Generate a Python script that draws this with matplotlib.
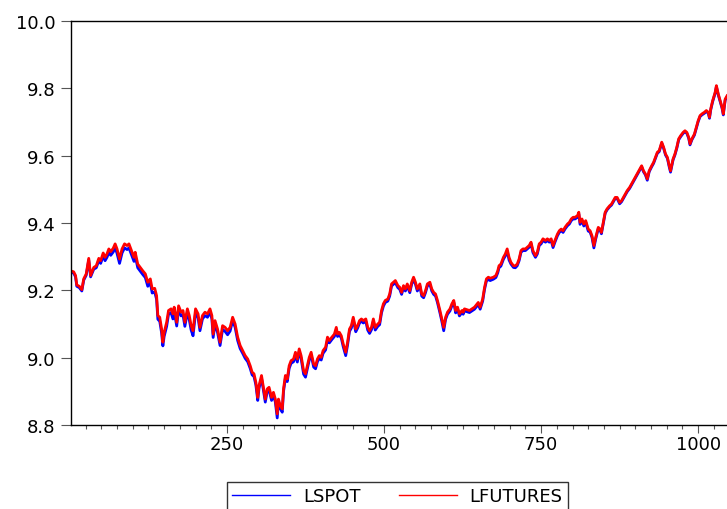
import matplotlib
matplotlib.use('Agg')
import matplotlib.pyplot as plt
from matplotlib.lines import Line2D
from matplotlib.ticker import MultipleLocator, FormatStrFormatter

obs = [
    1, 6, 9, 11, 15, 19, 22, 26, 30, 33, 38, 42, 46, 49, 53, 56, 59, 62, 65, 69,
    72, 75, 79, 83, 87, 91, 94, 97, 102, 104, 108, 112, 116, 120, 124, 128, 131, 135, 138, 140,
    143, 146, 148, 150, 154, 157, 161, 164, 166, 170, 173, 177, 180, 183, 187, 190, 193, 196, 200, 204,
    207, 211, 215, 219, 223, 226, 228, 231, 235, 239, 243, 247, 251, 255, 259, 263, 267, 271, 275, 279,
    283, 287, 290, 293, 296, 299, 301, 305, 308, 311, 314, 317, 321, 324, 327, 330, 332, 335, 338, 340,
    343, 346, 349, 352, 356, 359, 362, 365, 368, 372, 375, 378, 381, 384, 388, 391, 394, 397, 400, 403,
    407, 410, 413, 417, 421, 424, 426, 429, 432, 435, 439, 442, 445, 448, 451, 455, 458, 461, 464, 467,
    471, 474, 477, 480, 483, 486, 490, 493, 496, 499, 502, 506, 509, 512, 515, 518, 522, 525, 528, 531,
    534, 537, 541, 544, 547, 550, 553, 557, 560, 563, 566, 569, 573, 576, 579, 582, 585, 589, 592, 595,
    598, 601, 605, 608, 611, 614, 617, 620, 624, 626, 628, 636, 644, 650, 653, 657, 660, 663, 666, 669,
    674, 678, 681, 683, 686, 690, 693, 696, 699, 702, 706, 709, 712, 715, 718, 721, 725, 728, 731, 734,
    737, 741, 744, 747, 750, 753, 757, 760, 763, 766, 769, 772, 776, 779, 782, 785, 788, 792, 795, 798,
    801, 804, 808, 810, 812, 815, 818, 821, 825, 828, 831, 834, 837, 841, 844, 846, 849, 852, 855, 859,
    862, 865, 868, 871, 875, 878, 881, 884, 887, 891, 894, 897, 900, 903, 907, 910, 913, 916, 919, 922,
    926, 929, 932, 935, 938, 942, 945, 948, 951, 954, 956, 960, 963, 966, 969, 972, 976, 979, 982, 985,
    987, 990, 994, 997, 1000, 1003, 1006, 1010, 1013, 1016, 1018, 1020, 1023, 1027, 1029, 1032, 1035, 1038, 1040, 1043,
    1046,
]

lspot = [
    9.254, 9.251, 9.240, 9.212, 9.208, 9.198, 9.230, 9.245, 9.290, 9.240, 9.263, 9.267, 9.288, 9.280, 9.302, 9.288, 9.298, 9.312, 9.304, 9.314,
    9.327, 9.310, 9.280, 9.311, 9.326, 9.321, 9.326, 9.311, 9.286, 9.302, 9.267, 9.257, 9.247, 9.238, 9.212, 9.222, 9.192, 9.195, 9.173, 9.114,
    9.108, 9.073, 9.035, 9.063, 9.093, 9.129, 9.134, 9.115, 9.139, 9.094, 9.143, 9.124, 9.128, 9.093, 9.134, 9.113, 9.082, 9.065, 9.133, 9.119,
    9.080, 9.115, 9.125, 9.120, 9.135, 9.115, 9.060, 9.100, 9.075, 9.036, 9.084, 9.078, 9.068, 9.079, 9.110, 9.090, 9.051, 9.027, 9.013, 8.998,
    8.988, 8.968, 8.949, 8.944, 8.919, 8.873, 8.909, 8.939, 8.903, 8.868, 8.899, 8.904, 8.873, 8.889, 8.868, 8.821, 8.868, 8.848, 8.838, 8.899,
    8.939, 8.929, 8.968, 8.983, 8.988, 9.008, 8.987, 9.018, 8.998, 8.951, 8.942, 8.968, 8.993, 9.008, 8.972, 8.967, 8.988, 8.998, 8.993, 9.013,
    9.023, 9.053, 9.044, 9.054, 9.063, 9.083, 9.063, 9.068, 9.058, 9.033, 9.006, 9.038, 9.078, 9.088, 9.113, 9.077, 9.088, 9.103, 9.108, 9.103,
    9.108, 9.082, 9.072, 9.083, 9.108, 9.082, 9.093, 9.098, 9.133, 9.153, 9.164, 9.168, 9.183, 9.213, 9.218, 9.223, 9.208, 9.203, 9.188, 9.208,
    9.198, 9.213, 9.193, 9.218, 9.233, 9.218, 9.198, 9.213, 9.183, 9.178, 9.193, 9.213, 9.218, 9.198, 9.188, 9.183, 9.164, 9.133, 9.108, 9.080,
    9.114, 9.129, 9.139, 9.154, 9.164, 9.133, 9.144, 9.124, 9.134, 9.129, 9.139, 9.134, 9.144, 9.158, 9.144, 9.168, 9.203, 9.228, 9.232, 9.229,
    9.233, 9.238, 9.252, 9.267, 9.272, 9.292, 9.302, 9.316, 9.290, 9.278, 9.268, 9.267, 9.273, 9.288, 9.313, 9.318, 9.318, 9.323, 9.328, 9.338,
    9.312, 9.298, 9.308, 9.333, 9.338, 9.348, 9.343, 9.348, 9.343, 9.348, 9.327, 9.343, 9.362, 9.372, 9.377, 9.372, 9.382, 9.392, 9.397, 9.407,
    9.412, 9.412, 9.417, 9.427, 9.396, 9.407, 9.391, 9.402, 9.376, 9.373, 9.357, 9.326, 9.353, 9.383, 9.378, 9.368, 9.398, 9.429, 9.439, 9.448,
    9.453, 9.463, 9.473, 9.473, 9.457, 9.463, 9.473, 9.483, 9.493, 9.503, 9.513, 9.523, 9.533, 9.543, 9.557, 9.567, 9.552, 9.543, 9.527, 9.552,
    9.567, 9.577, 9.592, 9.607, 9.612, 9.637, 9.622, 9.602, 9.592, 9.566, 9.551, 9.587, 9.602, 9.622, 9.647, 9.656, 9.666, 9.671, 9.666, 9.651,
    9.632, 9.647, 9.661, 9.681, 9.701, 9.716, 9.721, 9.726, 9.731, 9.726, 9.711, 9.736, 9.760, 9.785, 9.805, 9.780, 9.760, 9.741, 9.721, 9.765,
    9.775,
]

lfutures = [
    9.258, 9.255, 9.244, 9.216, 9.212, 9.202, 9.234, 9.249, 9.295, 9.244, 9.268, 9.273, 9.295, 9.288, 9.311, 9.298, 9.308, 9.323, 9.315, 9.325,
    9.338, 9.323, 9.293, 9.323, 9.338, 9.333, 9.338, 9.323, 9.298, 9.313, 9.278, 9.268, 9.258, 9.249, 9.224, 9.234, 9.204, 9.206, 9.184, 9.125,
    9.120, 9.085, 9.046, 9.075, 9.105, 9.140, 9.145, 9.130, 9.150, 9.105, 9.154, 9.135, 9.140, 9.105, 9.145, 9.125, 9.095, 9.080, 9.145, 9.130,
    9.090, 9.125, 9.135, 9.130, 9.145, 9.125, 9.070, 9.110, 9.085, 9.046, 9.095, 9.090, 9.080, 9.090, 9.120, 9.100, 9.061, 9.036, 9.021, 9.006,
    8.996, 8.976, 8.957, 8.952, 8.927, 8.882, 8.917, 8.947, 8.912, 8.877, 8.907, 8.912, 8.882, 8.897, 8.877, 8.833, 8.877, 8.857, 8.848, 8.907,
    8.947, 8.937, 8.976, 8.991, 8.996, 9.016, 8.996, 9.026, 9.006, 8.961, 8.952, 8.976, 9.001, 9.016, 8.981, 8.976, 8.996, 9.006, 9.001, 9.021,
    9.031, 9.061, 9.051, 9.061, 9.070, 9.090, 9.070, 9.075, 9.065, 9.041, 9.016, 9.046, 9.085, 9.095, 9.120, 9.085, 9.095, 9.110, 9.115, 9.110,
    9.115, 9.090, 9.080, 9.090, 9.115, 9.090, 9.100, 9.105, 9.140, 9.160, 9.170, 9.174, 9.189, 9.219, 9.224, 9.229, 9.214, 9.209, 9.194, 9.214,
    9.204, 9.219, 9.199, 9.224, 9.239, 9.224, 9.204, 9.219, 9.189, 9.184, 9.199, 9.219, 9.224, 9.204, 9.194, 9.189, 9.170, 9.140, 9.115, 9.090,
    9.120, 9.135, 9.145, 9.160, 9.170, 9.140, 9.150, 9.130, 9.140, 9.135, 9.145, 9.140, 9.150, 9.164, 9.150, 9.174, 9.209, 9.234, 9.239, 9.236,
    9.239, 9.244, 9.258, 9.273, 9.278, 9.298, 9.308, 9.323, 9.298, 9.283, 9.273, 9.273, 9.278, 9.293, 9.318, 9.323, 9.323, 9.328, 9.333, 9.343,
    9.318, 9.303, 9.313, 9.338, 9.343, 9.353, 9.348, 9.353, 9.348, 9.353, 9.333, 9.348, 9.367, 9.377, 9.382, 9.377, 9.387, 9.397, 9.402, 9.412,
    9.417, 9.417, 9.422, 9.432, 9.402, 9.412, 9.397, 9.407, 9.382, 9.377, 9.362, 9.333, 9.358, 9.387, 9.382, 9.372, 9.402, 9.432, 9.442, 9.451,
    9.456, 9.466, 9.476, 9.476, 9.461, 9.466, 9.476, 9.486, 9.496, 9.506, 9.516, 9.526, 9.536, 9.546, 9.560, 9.570, 9.555, 9.546, 9.531, 9.555,
    9.570, 9.580, 9.595, 9.610, 9.615, 9.640, 9.625, 9.605, 9.595, 9.570, 9.555, 9.590, 9.605, 9.625, 9.650, 9.659, 9.669, 9.674, 9.669, 9.654,
    9.635, 9.650, 9.664, 9.684, 9.704, 9.719, 9.724, 9.729, 9.734, 9.729, 9.714, 9.739, 9.763, 9.788, 9.808, 9.783, 9.763, 9.744, 9.724, 9.768,
    9.778,
]

series_names = ['LSPOT', 'LFUTURES']
colors = ['#0000ff', '#ff0000']
y_ticks = [8.8, 9.0, 9.2, 9.4, 9.6, 9.8, 10.0]
x_ticks = [250, 500, 750, 1000]

plt.rcParams['font.family'] = ['DejaVu Sans']
plt.rcParams['font.size'] = 13

fig = plt.figure(figsize=(7.27, 5.10), dpi=100)
# right edge of the frame falls just outside the picture, as in the reference
ax = fig.add_axes([0.097, 0.1647, 0.9152, 0.7922])

ax.plot(obs, lspot, color=colors[0], lw=2.0, solid_joinstyle='round')
ax.plot(obs, lfutures, color=colors[1], lw=2.0, solid_joinstyle='round')

ax.set_xlim(1, 1060)
ax.set_ylim(8.8, 10.0)
ax.set_yticks(y_ticks)
ax.yaxis.set_major_formatter(FormatStrFormatter('%.1f'))
ax.set_xticks(x_ticks)
ax.xaxis.set_minor_locator(MultipleLocator(25))

ax.tick_params(axis='y', direction='out', length=7.2, width=0.8, pad=3.5, color='#555555')
ax.tick_params(axis='x', which='major', direction='out', length=5.5, width=0.8, pad=1.5, color='#555555')
ax.tick_params(axis='x', which='minor', direction='out', length=3.0, width=0.8, color='#555555')

for side in ['top', 'left', 'bottom']:
    ax.spines[side].set_linewidth(1.0)
    ax.spines[side].set_color('black')
ax.spines['right'].set_visible(False)

handles = [Line2D([], [], color=c, lw=1.0) for c in colors]
leg = fig.legend(handles, series_names, loc='upper center',
                 bbox_to_anchor=(397.5 / 727, 1 - 483 / 510), ncol=2,
                 frameon=True, fancybox=False, edgecolor='black',
                 handlelength=3.2, handletextpad=0.7, columnspacing=2.15,
                 borderpad=0.29, borderaxespad=0, fontsize=13)
leg.get_frame().set_linewidth(1.0)

fig.savefig('out.png', dpi=100)
